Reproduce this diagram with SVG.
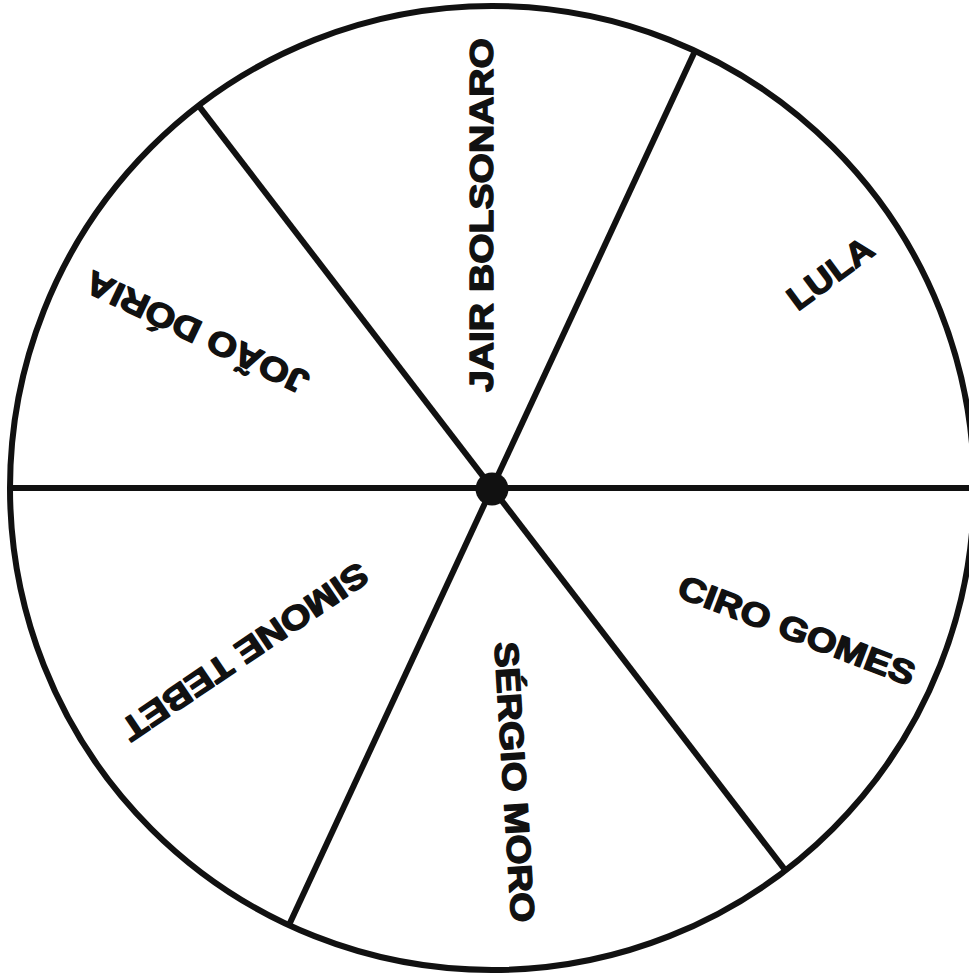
<svg xmlns="http://www.w3.org/2000/svg" width="969" height="979" viewBox="0 0 969 979">
<style>
.ln{stroke:#111;stroke-width:6;fill:none}
.lb{font-family:"Liberation Sans",Arial,sans-serif;font-weight:bold;font-size:33.5px;fill:#111;stroke:#111;stroke-width:1.4;stroke-linejoin:round;text-anchor:middle}
</style>
<rect width="969" height="979" fill="#fff"/>
<g id="wheel">
<circle class="ln" cx="492" cy="488" r="482"/>
</g>
<g id="connectors">
<line class="ln" x1="10" y1="488" x2="974" y2="488"/>
<line class="ln" x1="695" y1="51" x2="289" y2="925"/>
<line class="ln" x1="198.6" y1="105.6" x2="785.4" y2="870.4"/>
</g>
<g id="hub"><circle cx="492" cy="489" r="16.5" fill="#111"/></g>
<g id="jair" transform="translate(481,215) rotate(-90)"><text class="lb" x="0" y="12" textLength="354" lengthAdjust="spacingAndGlyphs">JAIR BOLSONARO</text></g>
<g id="lula" transform="translate(830,273) rotate(-36.5)"><text class="lb" x="0" y="12" textLength="98" lengthAdjust="spacingAndGlyphs">LULA</text></g>
<g id="ciro" transform="translate(797,630) rotate(21)"><text class="lb" x="0" y="12" textLength="251" lengthAdjust="spacingAndGlyphs">CIRO GOMES</text></g>
<g id="sergio" transform="translate(515,782) rotate(86.5)"><text class="lb" x="0" y="12" textLength="281" lengthAdjust="spacingAndGlyphs">SÉRGIO MORO</text></g>
<g id="simone" transform="translate(245,652) rotate(146)"><text class="lb" x="0" y="12" textLength="290" lengthAdjust="spacingAndGlyphs">SIMONE TEBET</text></g>
<g id="joao" transform="translate(197,333) rotate(205.5)"><text class="lb" x="0" y="12" textLength="243" lengthAdjust="spacingAndGlyphs">JOÃO DÓRIA</text></g>
</svg>
